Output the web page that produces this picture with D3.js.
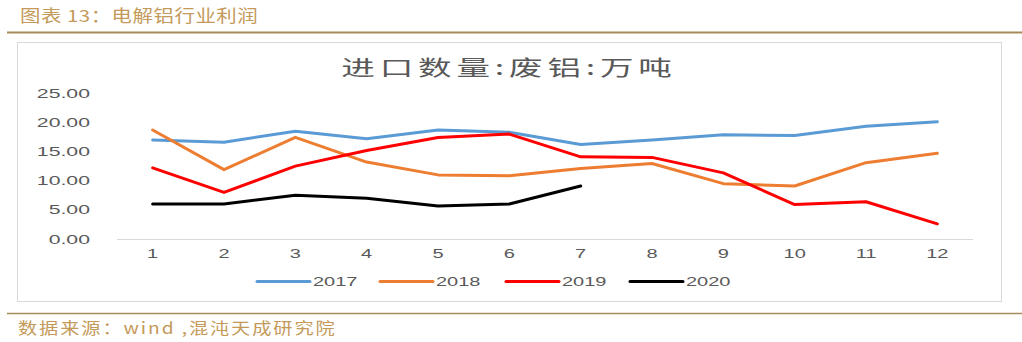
<!DOCTYPE html>
<html><head><meta charset="utf-8">
<script src="https://cdn.jsdelivr.net/npm/d3@7"></script>
<style>body{margin:0;background:#fff}svg{display:block}</style>
</head><body>
<script>
const months = ["1","2","3","4","5","6","7","8","9","10","11","12"];
const yTicks = [0,5,10,15,20,25];
const s2017 = [17.0,16.6,18.5,17.2,18.7,18.3,16.2,17.0,17.9,17.75,19.35,20.1];
const s2018 = [18.7,11.9,17.45,13.2,11.0,10.85,12.1,12.95,9.5,9.1,13.1,14.7];
const s2019 = [12.2,8.0,12.5,15.2,17.4,18.0,14.1,14.0,11.35,5.9,6.4,2.6];
const s2020 = [6.0,6.0,7.5,7.0,5.65,6.0,9.1];
const seriesNames = ["2017","2018","2019","2020"];
const seriesColors = ["#5B9BD5","#ED7D31","#FF0000","#000000"];
const seriesData = [s2017,s2018,s2019,s2020];

const W=1022,H=342;
const svg=d3.select("body").append("svg").attr("width",W).attr("height",H);
const gold="#C49A5A";
// header
svg.append("text").attr("transform","translate(20,22) scale(1.24,1)")
  .attr("font-family","Noto Sans CJK SC").attr("font-size",16.5).attr("fill",gold)
  .attr("letter-spacing",0.4)
  .text("图表 13：电解铝行业利润");
svg.append("line").attr("x1",7).attr("x2",W).attr("y1",32.5).attr("y2",32.5).attr("stroke","#A88A5C").attr("stroke-width",2);
svg.append("line").attr("x1",7).attr("x2",W).attr("y1",313.5).attr("y2",313.5).attr("stroke","#A88A5C").attr("stroke-width",1.5);
svg.append("text").attr("transform","translate(18,334) scale(1.2,1)")
  .attr("font-family","Noto Sans CJK SC").attr("font-size",16).attr("fill",gold)
  .attr("letter-spacing",1.6)
  .text("数据来源：wind ,混沌天成研究院");
// chart frame
svg.append("rect").attr("x",17.5).attr("y",42.5).attr("width",984).attr("height",259)
  .attr("fill","#fff").attr("stroke","#D9D9D9").attr("stroke-width",1);
// title
svg.append("text").attr("transform","translate(509,75) scale(1.6,1)").attr("text-anchor","middle")
  .attr("font-family","Noto Sans CJK SC").attr("font-size",21).attr("fill","#595959")
  .attr("letter-spacing",3)
  .text("进口数量:废铝:万吨");

const x=d3.scaleBand().domain(months).range([117,973]);
const y=d3.scaleLinear().domain([0,25]).range([239,93.3]);

// zero axis line
svg.append("line").attr("x1",117).attr("x2",973).attr("y1",y(0)+0.5).attr("y2",y(0)+0.5).attr("stroke","#D9D9D9").attr("stroke-width",1);

const tf="Liberation Sans";
yTicks.forEach(t=>{
  svg.append("text").attr("transform",`translate(90,${y(t)+4.5}) scale(1.7,1)`).attr("text-anchor","end")
    .attr("font-family",tf).attr("font-size",12.5).attr("fill","#595959").text(d3.format(".2f")(t));
});
months.forEach(m=>{
  svg.append("text").attr("transform",`translate(${x(m)+x.bandwidth()/2},258) scale(1.6,1)`).attr("text-anchor","middle")
    .attr("font-family",tf).attr("font-size",12.5).attr("fill","#595959").text(m);
});

const line=d3.line().x((d,i)=>x(months[i])+x.bandwidth()/2).y(d=>y(d));
seriesData.forEach((s,k)=>{
  svg.append("path").attr("d",line(s)).attr("fill","none").attr("stroke",seriesColors[k])
    .attr("stroke-width",3).attr("stroke-linejoin","round").attr("stroke-linecap","round");
});

// legend
const legX=[257,380,506,630];
seriesNames.forEach((n,k)=>{
  svg.append("line").attr("x1",legX[k]).attr("x2",legX[k]+53).attr("y1",281.5).attr("y2",281.5)
    .attr("stroke",seriesColors[k]).attr("stroke-width",3).attr("stroke-linecap","round");
  svg.append("text").attr("transform",`translate(${legX[k]+56},286) scale(1.6,1)`)
    .attr("font-family",tf).attr("font-size",12.5).attr("fill","#595959").text(n);
});
</script>
</body></html>
